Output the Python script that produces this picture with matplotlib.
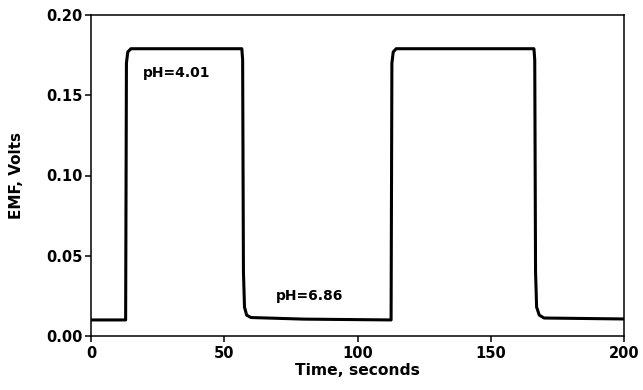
import matplotlib
matplotlib.use("Agg")
import matplotlib.pyplot as plt

plt.rcParams['font.family'] = ['DejaVu Sans']
plt.rcParams['font.weight'] = 'bold'

# Data (time in s, EMF in V)
time_s = [0, 13.0, 13.3, 13.8, 15.0, 56.6, 56.9, 57.2, 57.6, 58.4, 60.0, 80.0, 112.6,
          112.9, 113.4, 114.5, 166.2, 166.5, 166.8, 167.2, 168.2, 170.0, 200]
emf_v = [0.010, 0.010, 0.170, 0.177, 0.179, 0.179, 0.172, 0.040, 0.018, 0.013, 0.0115, 0.0105, 0.010,
         0.170, 0.177, 0.179, 0.179, 0.172, 0.040, 0.018, 0.013, 0.0112, 0.0106]

labels = ["pH=4.01", "pH=6.86"]
label_x = [19.5, 69.5]
label_y = [0.164, 0.025]

fig = plt.figure(figsize=(6.43, 3.90), dpi=100)
ax = fig.add_axes([0.1415, 0.1385, 0.829, 0.823])

ax.plot(time_s, emf_v, color='black', linewidth=2.2, solid_joinstyle='round')
for txt, x, y in zip(labels, label_x, label_y):
    ax.text(x, y, txt, fontsize=10, fontweight='bold', va='center', ha='left')

ax.set_xlim(0, 200)
ax.set_ylim(0, 0.20)
ax.set_xticks([0, 50, 100, 150, 200])
ax.set_yticks([0.00, 0.05, 0.10, 0.15, 0.20])
ax.set_yticklabels(['0.00', '0.05', '0.10', '0.15', '0.20'])
ax.tick_params(direction='out', length=4, width=1.1, labelsize=10.5, pad=2)
ax.tick_params(axis='x', pad=3)
for s in ax.spines.values():
    s.set_linewidth(1.1)

ax.set_xlabel('Time, seconds', fontsize=11.2, fontweight='bold', labelpad=2)
ax.set_ylabel('EMF, Volts', fontsize=11, fontweight='bold', labelpad=16)

fig.savefig('out.png', dpi=100)
